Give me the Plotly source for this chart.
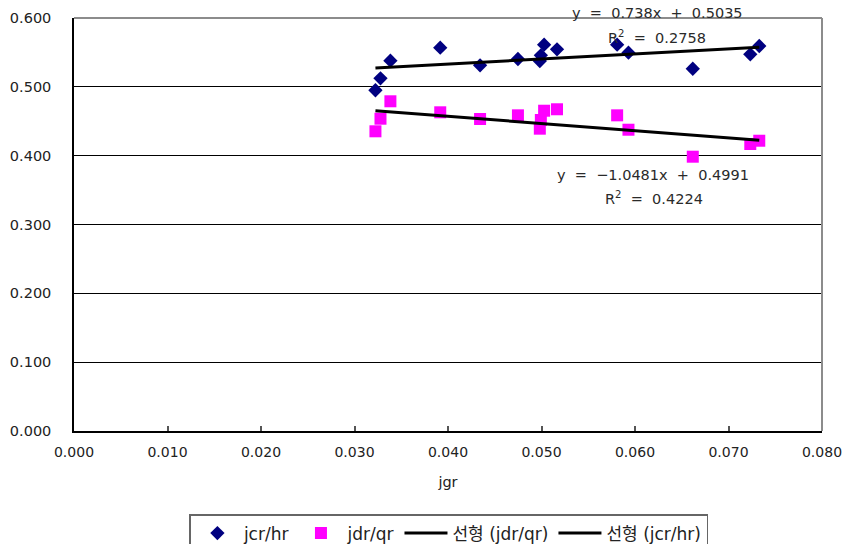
import plotly.graph_objects as go

# Data
jgr = [0.03224, 0.03278, 0.03384, 0.03917, 0.04343, 0.04748, 0.04993, 0.04982,
       0.05028, 0.05166, 0.05809, 0.05930, 0.06618, 0.07233, 0.07329]
jcr_hr = [0.4950, 0.5124, 0.5380, 0.5569, 0.5313, 0.5404, 0.5458, 0.5375,
          0.5612, 0.5545, 0.5612, 0.5496, 0.5263, 0.5473, 0.5593]
jdr_qr = [0.4354, 0.4537, 0.4790, 0.4630, 0.4533, 0.4586, 0.4518, 0.4392,
          0.4653, 0.4674, 0.4586, 0.4377, 0.3985, 0.4169, 0.4217]

# Trendline coefficients (as printed on the chart)
jcr_slope, jcr_intercept, jcr_r2 = 0.738, 0.5035, 0.2758
jdr_slope, jdr_intercept, jdr_r2 = -1.0481, 0.4991, 0.4224

x_ticks = [0.0, 0.01, 0.02, 0.03, 0.04, 0.05, 0.06, 0.07, 0.08]
y_ticks = [0.0, 0.1, 0.2, 0.3, 0.4, 0.5, 0.6]

FONT = "DejaVu Sans, Noto Sans CJK KR, sans-serif"

xmin, xmax = min(jgr), max(jgr)
tx = [xmin, xmax]

fig = go.Figure()
fig.add_trace(go.Scatter(x=jgr, y=jcr_hr, mode="markers", name="jcr/hr",
                         marker=dict(symbol="diamond", color="#000080", size=11)))
fig.add_trace(go.Scatter(x=jgr, y=jdr_qr, mode="markers", name="jdr/qr",
                         marker=dict(symbol="square", color="#FF00FF", size=12)))
fig.add_trace(go.Scatter(x=tx, y=[jdr_slope * v + jdr_intercept for v in tx],
                         mode="lines", name="선형 (jdr/qr)",
                         line=dict(color="black", width=3)))
fig.add_trace(go.Scatter(x=tx, y=[jcr_slope * v + jcr_intercept for v in tx],
                         mode="lines", name="선형 (jcr/hr)",
                         line=dict(color="black", width=3)))

ann_font = dict(family=FONT, size=14.5, color="#2a2a2a")
fig.add_annotation(x=0.0624, y=1.036, xref="x", yref="paper", showarrow=False,
                   text=f"y  =  {jcr_slope}x  +  {jcr_intercept}", font=ann_font)
fig.add_annotation(x=0.0624, y=0.980, xref="x", yref="paper", showarrow=False,
                   text=f"R<sup>2</sup>  =  {jcr_r2}", font=ann_font)
fig.add_annotation(x=0.0619, y=0.620, xref="x", yref="paper", showarrow=False,
                   text=f"y  =  \u22121.0481x  +  {jdr_intercept}", font=ann_font)
fig.add_annotation(x=0.0620, y=0.564, xref="x", yref="paper", showarrow=False,
                   text=f"R<sup>2</sup>  =  {jdr_r2}", font=ann_font)

# gray top and right plot-area border (Excel style)
fig.add_shape(type="line", xref="paper", yref="paper", x0=0, x1=1, y0=1, y1=1,
              line=dict(color="#8c8c8c", width=2), layer="above")
fig.add_shape(type="line", xref="paper", yref="paper", x0=1, x1=1, y0=0, y1=1,
              line=dict(color="#8c8c8c", width=2), layer="above")

fig.update_layout(
    width=843, height=544,
    margin=dict(l=74, r=21, t=18, b=113, autoexpand=False),
    paper_bgcolor="white", plot_bgcolor="white",
    font=dict(family=FONT, size=14.5, color="#222222"),
    showlegend=True,
    legend=dict(orientation="h", x=0.5012, xanchor="center", y=-0.201, yanchor="top",
                bordercolor="#666666", borderwidth=1.5, itemwidth=43,
                font=dict(family=FONT, size=17, color="#222222")),
)
fig.update_xaxes(range=[0, 0.08], tickvals=x_ticks,
                 ticktext=[f"{v:.3f}" for v in x_ticks],
                 tickfont=dict(size=14),
                 showgrid=False, zeroline=False, showline=True,
                 linecolor="black", linewidth=1.5,
                 ticks="inside", ticklen=5, tickcolor="#555555", tickwidth=1.5,
                 ticklabelstandoff=7,
                 title=dict(text="jgr", standoff=18, font=dict(size=14.5)))
fig.update_yaxes(range=[0, 0.6], tickvals=y_ticks,
                 ticktext=[f"{v:.3f}" for v in y_ticks],
                 showgrid=True, gridcolor="black", gridwidth=1,
                 zeroline=False, showline=True, linecolor="black", linewidth=1.5,
                 ticks="", ticklabelstandoff=18)

fig.write_html("out.html")
